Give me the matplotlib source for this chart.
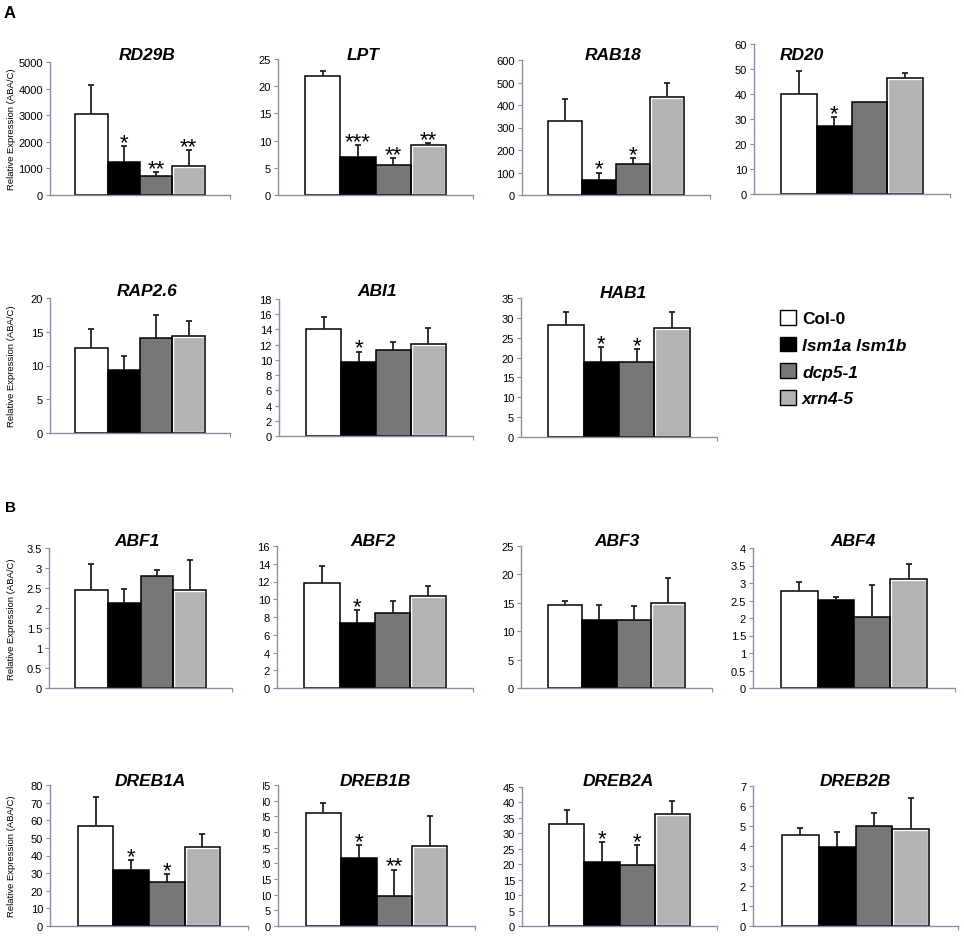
import matplotlib.pyplot as plt
from matplotlib.patches import Patch
from matplotlib.transforms import Bbox

plt.rcParams['font.family'] = ['Liberation Sans', 'DejaVu Sans']

# genotypes and colours
genotypes = ['Col-0', 'lsm1a lsm1b', 'dcp5-1', 'xrn4-5']
colors = ['white', 'black', '#777777', '#b3b3b3']

# genes left to right, top to bottom
genes = ['RD29B', 'LPT', 'RAB18', 'RD20',
         'RAP2.6', 'ABI1', 'HAB1',
         'ABF1', 'ABF2', 'ABF3', 'ABF4',
         'DREB1A', 'DREB1B', 'DREB2A', 'DREB2B']

means = [
    [3050, 1230, 720, 1100],
    [21.9, 7.0, 5.5, 9.1],
    [330, 65, 140, 435],
    [40, 27.3, 37, 46.5],
    [12.6, 9.4, 14.1, 14.4],
    [14.1, 9.7, 11.3, 12.1],
    [28.1, 19.0, 19.0, 27.5],
    [2.45, 2.12, 2.8, 2.45],
    [11.8, 7.3, 8.4, 10.4],
    [14.7, 11.9, 11.9, 15.0],
    [2.78, 2.52, 2.02, 3.12],
    [56.5, 31.8, 25.0, 44.8],
    [36.0, 21.8, 9.7, 25.5],
    [33.0, 20.8, 19.7, 36.3],
    [4.55, 3.95, 5.0, 4.85],
]

errors = [
    [1100, 600, 150, 580],
    [0.9, 2.1, 1.3, 0.4],
    [95, 35, 25, 62],
    [9.3, 3.4, 0, 2.0],
    [2.8, 2.0, 3.4, 2.2],
    [1.6, 1.4, 1.1, 2.1],
    [3.3, 3.6, 3.2, 3.9],
    [0.65, 0.36, 0.15, 0.75],
    [1.9, 1.5, 1.4, 1.1],
    [0.6, 2.7, 2.5, 4.4],
    [0.24, 0.08, 0.93, 0.43],
    [16.8, 5.7, 4.5, 7.2],
    [3.3, 4.0, 8.3, 9.5],
    [4.5, 6.4, 6.5, 4.2],
    [0.35, 0.75, 0.65, 1.55],
]

stars = [
    ['', '*', '**', '**'],
    ['', '***', '**', '**'],
    ['', '*', '*', ''],
    ['', '*', '', ''],
    ['', '', '', ''],
    ['', '*', '', ''],
    ['', '*', '*', ''],
    ['', '', '', ''],
    ['', '*', '', ''],
    ['', '', '', ''],
    ['', '', '', ''],
    ['', '*', '*', ''],
    ['', '*', '**', ''],
    ['', '*', '*', ''],
    ['', '', '', ''],
]

ymax = [5000, 25, 600, 60, 20, 18, 35, 3.5, 16, 25, 4, 80, 45, 45, 7]
ystep = [1000, 5, 100, 10, 5, 2, 5, 0.5, 2, 5, 0.5, 10, 5, 5, 1]

# layout in pixels: (left, right, top of y range, zero line), title centre
W, H = 964, 937
boxes = [
    (50, 230, 63, 196), (278, 473, 60, 196), (522, 710, 61, 196), (754, 950, 45, 195),
    (50, 230, 299, 434), (279, 473, 300, 437), (521, 717, 299, 438),
    (49, 232, 549, 689), (277, 473, 547, 689), (521, 712, 547, 689), (753, 955, 549, 689),
    (50, 248, 786, 927), (278, 475, 786, 927), (522, 717, 788, 927), (753, 958, 787, 927),
]
title_pos = [
    (147, 55), (363, 55), (613, 55), (802, 55),
    (147, 292), (377, 292), (623, 293),
    (137, 542), (373, 542), (617, 542), (853, 542),
    (150, 782), (375, 782), (618, 782), (855, 782),
]
first_col = [0, 4, 7, 11]

spine_col = '#8c8ca6'
width = 0.18
xs = [(i - 1.5) * width for i in range(4)]

fig = plt.figure(figsize=(W / 100, H / 100), dpi=100)

for k, gene in enumerate(genes):
    l, r, t, b = boxes[k]
    ax = fig.add_axes([l / W, 1 - b / H, (r - l) / W, (b - t) / H])
    m, e = means[k], errors[k]

    for i in range(4):
        if colors[i] == '#b3b3b3':
            ax.bar(xs[i], m[i], width, color=colors[i], edgecolor='white', linewidth=2.4, zorder=2)
            ax.bar(xs[i], m[i], width, fill=False, edgecolor='black', linewidth=1.1, zorder=3)
        else:
            ax.bar(xs[i], m[i], width, color=colors[i], edgecolor='black', linewidth=1.1, zorder=3)

    ex = [xs[i] for i in range(4) if e[i] > 0]
    ey = [m[i] for i in range(4) if e[i] > 0]
    ee = [e[i] for i in range(4) if e[i] > 0]
    _, caps, _ = ax.errorbar(ex, ey, yerr=[[0] * len(ee), ee], fmt='none', ecolor='#222222',
                             elinewidth=1.3, capsize=2.5, capthick=1.3, zorder=4)
    # only the upper cap is drawn in the original
    caps[0].set_visible(False)

    for i in range(4):
        if stars[k][i]:
            ax.annotate(stars[k][i], (xs[i], m[i] + e[i]), xytext=(0, -5),
                        textcoords='offset points', ha='center', va='bottom',
                        fontsize=16, zorder=5)

    ax.set_xlim(-0.5, 0.5)
    ax.set_ylim(0, ymax[k])
    n = int(round(ymax[k] / ystep[k]))
    ticks = [j * ystep[k] for j in range(n + 1)]
    ax.set_yticks(ticks)
    ax.set_yticklabels(['{:g}'.format(v) for v in ticks])
    ax.set_xticks([0.5])
    ax.set_xticklabels([''])
    for s in ['top', 'right']:
        ax.spines[s].set_visible(False)
    for s in ['left', 'bottom']:
        ax.spines[s].set_color(spine_col)
        ax.spines[s].set_linewidth(1.0)
        ax.spines[s].set_zorder(6)
    ax.tick_params(axis='both', direction='out', length=3, color=spine_col,
                   labelsize=8, pad=2)
    ax.patch.set_alpha(0)

    tx, ty = title_pos[k]
    fig.text(tx / W, 1 - ty / H, gene, ha='center', va='center',
             fontsize=12.5, weight='bold', style='italic')

    if k in first_col:
        fig.text(12 / W, 1 - (t + b) / 2 / H, 'Relative Expression (ABA/C)',
                 rotation=90, ha='center', va='center', fontsize=6.8)

    # DREB1B tick labels are cut off on the left in the original
    if gene == 'DREB1B':
        clip = Bbox.from_extents(263, 0, W, H)
        for lab in ax.get_yticklabels():
            lab.set_clip_box(clip)
            lab.set_clip_on(True)

fig.text(10 / W, 1 - 14 / H, 'A', ha='center', va='center', fontsize=12, weight='bold')
fig.text(10 / W, 1 - 508 / H, 'B', ha='center', va='center', fontsize=11, weight='bold')

handles = [Patch(facecolor=c, edgecolor='black', linewidth=1.0) for c in colors]
leg = fig.legend(handles, genotypes, loc='upper left', bbox_to_anchor=(780 / W, 1 - 311 / H),
                 frameon=False, fontsize=12.5, handlelength=0.92, handleheight=0.92,
                 handletextpad=0.35, labelspacing=0.6, borderpad=0, borderaxespad=0)
for i, txt in enumerate(leg.get_texts()):
    txt.set_weight('bold')
    if i > 0:
        txt.set_style('italic')

fig.savefig('out.png', dpi=100)
